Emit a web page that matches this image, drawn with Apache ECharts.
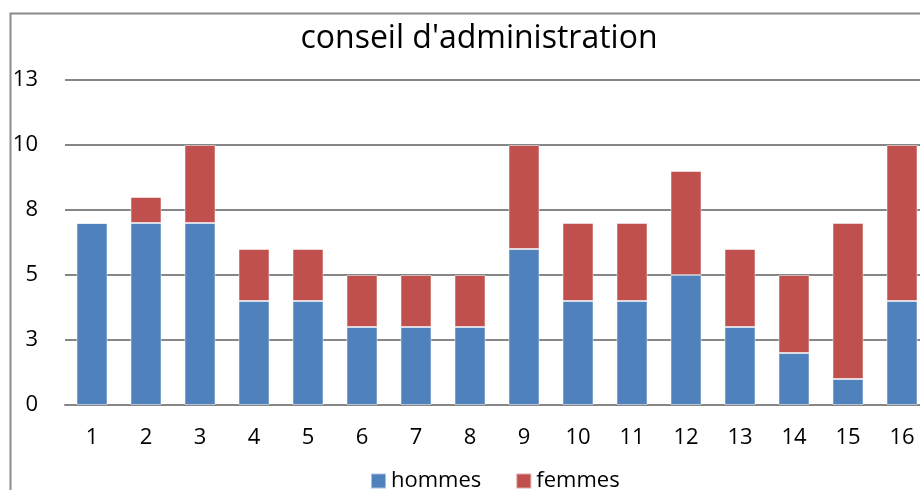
<!DOCTYPE html>
<html>
<head>
<meta charset="utf-8">
<script src="https://cdn.jsdelivr.net/npm/echarts@6/dist/echarts.min.js"></script>
<style>
html,body{margin:0;padding:0;overflow:hidden;background:#fff;width:920px;height:490px;}
#c{width:940px;height:490px;}
</style>
</head>
<body>
<div id="c"></div>
<script>
const categories = ['1','2','3','4','5','6','7','8','9','10','11','12','13','14','15','16'];
const hommes = [7,7,7,4,4,3,3,3,6,4,4,5,3,2,1,4];
const femmes = [0,1,3,2,2,2,2,2,4,3,3,4,3,3,6,6];

const chart = echarts.init(document.getElementById('c'), null, {renderer:'canvas'});
const font = '"Open Sans", "Noto Sans", sans-serif';
chart.setOption({
  animation:false,
  textStyle:{fontFamily:font},
  graphic:[{type:'rect',left:8,top:11,shape:{width:1200,height:1200},style:{fill:'none',stroke:'#8c8c8c',lineWidth:2},z:-1}],
  title:{text:"conseil d'administration",left:474,textAlign:'center',top:18,
    textStyle:{fontFamily:font,fontSize:32,fontWeight:'normal',color:'#000'}},
  legend:{data:['hommes','femmes'],left:365,top:465,itemWidth:15,itemHeight:15,itemGap:34,icon:'rect',
    textStyle:{fontFamily:font,fontSize:22,color:'#000'}},
  grid:{left:65,top:80,width:864,height:325,containLabel:false},
  xAxis:{type:'category',data:categories,
    axisLine:{lineStyle:{color:'#868686',width:2}},axisTick:{show:false},
    axisLabel:{fontFamily:font,fontSize:22,color:'#000',margin:22}},
  yAxis:{type:'value',min:0,max:12.5,interval:2.5,
    axisLine:{show:false},axisTick:{show:false},
    splitLine:{lineStyle:{color:'#868686',width:2}},
    axisLabel:{fontFamily:font,fontSize:22,color:'#000',margin:27,formatter:v=>String(Math.round(v))}},
  series:[
    {name:'hommes',type:'bar',stack:'t',data:hommes,barWidth:31,
      itemStyle:{color:'#4F81BD',borderColor:'rgba(255,255,255,0.5)',borderWidth:1}},
    {name:'femmes',type:'bar',stack:'t',data:femmes,barWidth:31,
      itemStyle:{color:'#C0504D',borderColor:'rgba(255,255,255,0.5)',borderWidth:1}}
  ]
});
</script>
</body>
</html>
